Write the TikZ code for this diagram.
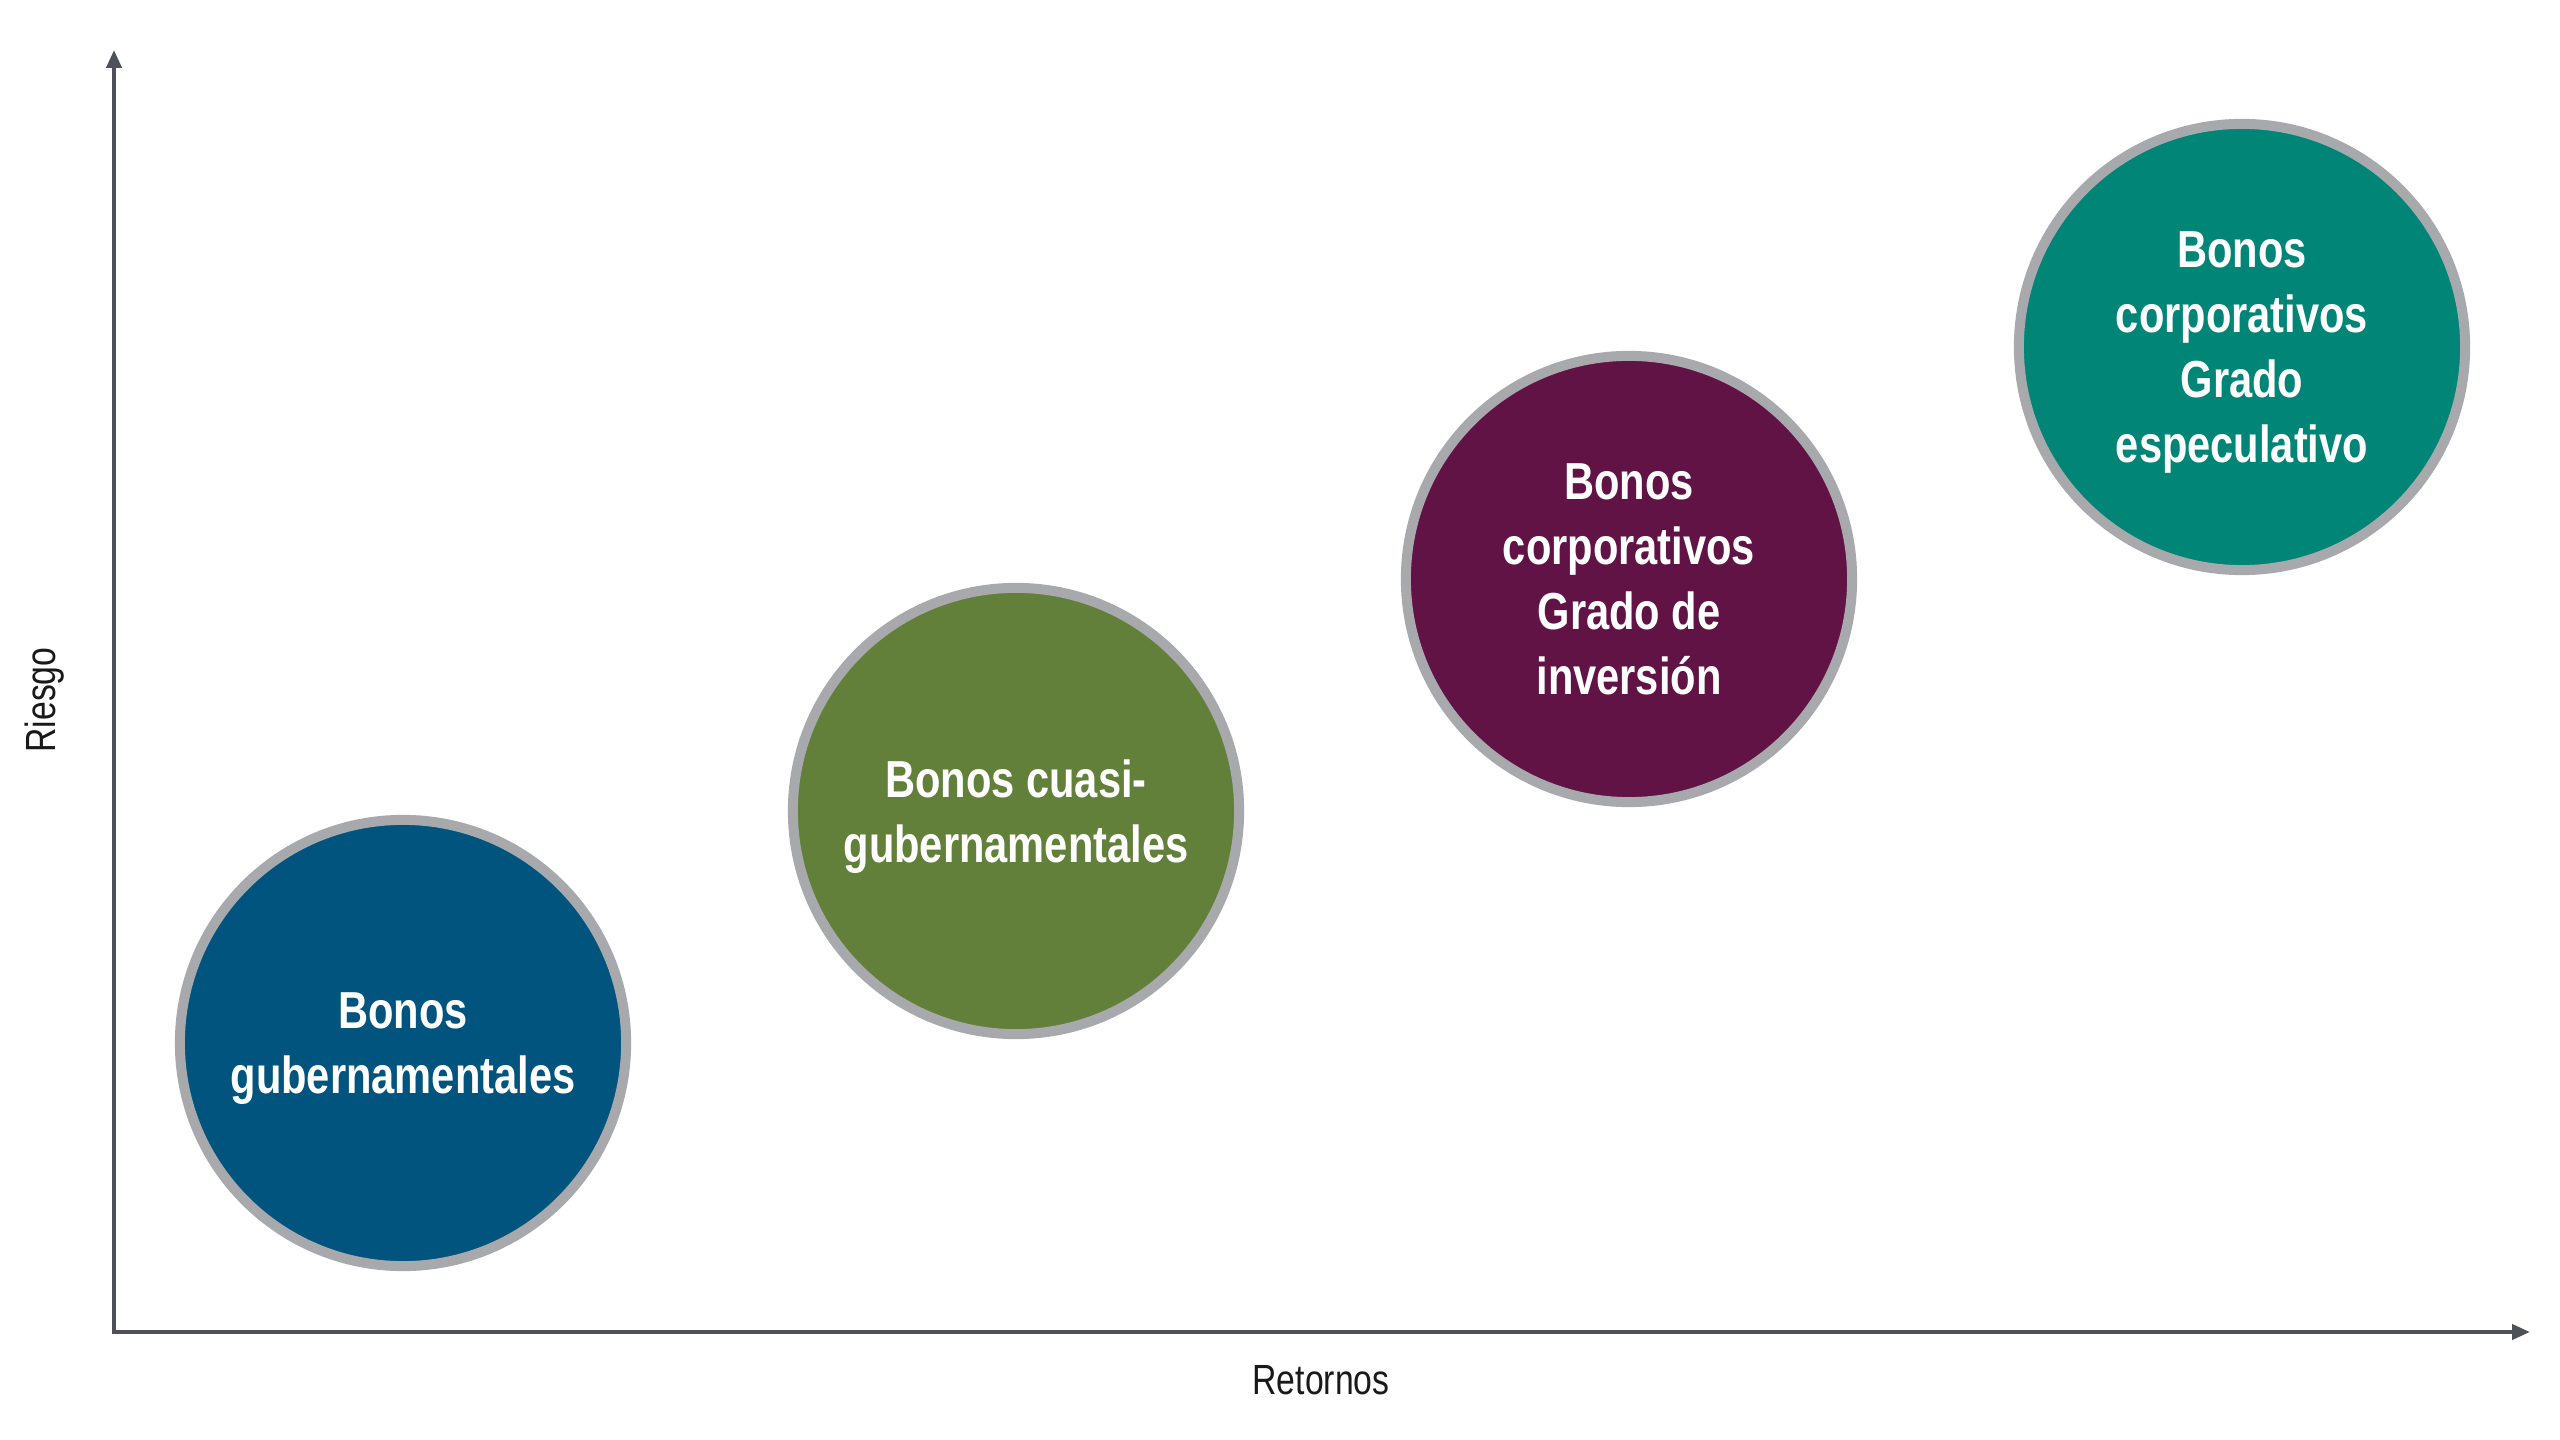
\documentclass[tikz,border=0pt]{standalone}
\usepackage{fontspec}
\setmainfont{Liberation Sans}[FakeStretch=0.8]
\usepackage{tikz}
\usetikzlibrary{arrows.meta}
\definecolor{axisgray}{HTML}{4D525A}
\definecolor{ringgray}{HTML}{A7A9AC}
\definecolor{govblue}{HTML}{00547D}
\definecolor{quasigreen}{HTML}{62803A}
\definecolor{igpurple}{HTML}{621345}
\definecolor{hyteal}{HTML}{008577}
\tikzstyle{bond}=[circle, draw=ringgray, line width=0.1cm, minimum size=4.46cm, inner sep=0pt, align=center, text depth=0pt, text=white, font=\bfseries\fontsize{14.8}{18.5}\selectfont]
\tikzstyle{axis}=[draw=axisgray, line width=0.04cm, {Triangle[length=0.18cm,width=0.15cm]}-{Triangle[length=0.18cm,width=0.15cm]}]
\tikzstyle{axislabel}=[font=\fontsize{12}{14}\selectfont, text=black!90]

\begin{document}
\begin{tikzpicture}[x=0.01cm, y=-0.01cm]
                    \useasboundingbox (0,0) rectangle (2560,1440);
                    \coordinate (o)    at (114, 1332);
                    \coordinate (ytop) at (114, 50);
                    \coordinate (xend) at (2530, 1332);
                    \draw[axis] (ytop) -- (o) -- (xend);
                    \node[axislabel] (ret) at (1321, 1380) {Retornos};
                    \node[axislabel, rotate=90] (rie) at (45, 700) {Riesgo};
                    \node[bond, fill=govblue]    (gov)   at ( 403, 1043) {Bonos\\gubernamentales};
                    \node[bond, fill=quasigreen] (quasi) at (1016,  811) {Bonos cuasi-\\gubernamentales};
                    \node[bond, fill=igpurple]   (ig)    at (1629,  579) {Bonos\\corporativos\\Grado de\\inversión};
                    \node[bond, fill=hyteal]     (hy)    at (2242,  347) {Bonos\\corporativos\\Grado\\especulativo};
                \end{tikzpicture}
\end{document}
